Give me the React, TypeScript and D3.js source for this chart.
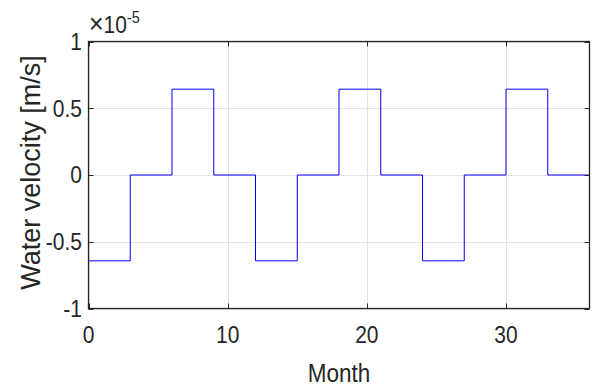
// @ts-nocheck
import React from "react";
import * as d3 from "d3";

// step boundaries (month) and the velocity held from each boundary to the next
const stepMonths = [0, 3, 6, 9, 12, 15, 18, 21, 24, 27, 30, 33, 36];
const stepVelocity = [
  -6.43e-6, 0, 6.43e-6, 0, -6.43e-6, 0, 6.43e-6, 0, -6.43e-6, 0, 6.43e-6, 0, 0,
];
const xTicks = [0, 10, 20, 30];
const yTicks = [-1e-5, -0.5e-5, 0, 0.5e-5, 1e-5];
const yTickLabels = ["-1", "-0.5", "0", "0.5", "1"];

const width = 592;
const height = 387;
const margin = { top: 41.5, right: 2.5, bottom: 78.5, left: 88.5 };
const font = "'Liberation Sans', Arial, Helvetica, sans-serif";
const axisColor = "#262626";
const gridColor = "#e3e3e3";
const tickLen = 5;

export default function App() {
  const x = d3.scaleLinear().domain([0, 36]).range([margin.left, width - margin.right]);
  const y = d3.scaleLinear().domain([-1e-5, 1e-5]).range([height - margin.bottom, margin.top]);

  const pts = stepMonths.map((m, i) => [m, stepVelocity[i]]);
  const line = d3
    .line()
    .x((d) => x(d[0]))
    .y((d) => y(d[1]))
    .curve(d3.curveStepAfter);

  const x0 = x.range()[0];
  const x1 = x.range()[1];
  const yTop = y.range()[1];
  const yBot = y.range()[0];

  return (
    <svg
      width={width}
      height={height}
      style={{ position: "absolute", left: 0, top: 0, background: "#fff" }}
      fontFamily={font}
    >
      {/* grid */}
      <g stroke={gridColor} strokeWidth={1}>
        {xTicks.map((t) => (
          <line key={"gx" + t} x1={Math.round(x(t)) + 0.5} x2={Math.round(x(t)) + 0.5} y1={yTop} y2={yBot} />
        ))}
        {yTicks.map((t) => (
          <line key={"gy" + t} x1={x0} x2={x1} y1={Math.round(y(t)) + 0.5} y2={Math.round(y(t)) + 0.5} />
        ))}
      </g>

      {/* data */}
      <path d={line(pts)} fill="none" stroke="#0000ff" strokeWidth={1} />

      {/* box */}
      <rect x={x0} y={yTop} width={x1 - x0} height={yBot - yTop} fill="none" stroke={axisColor} strokeWidth={1.3} />

      {/* ticks */}
      <g stroke={axisColor} strokeWidth={1}>
        {xTicks.map((t) => {
          const px = Math.round(x(t)) + 0.5;
          return (
            <g key={"tx" + t}>
              <line x1={px} x2={px} y1={yBot} y2={yBot - tickLen} />
              <line x1={px} x2={px} y1={yTop} y2={yTop + tickLen} />
            </g>
          );
        })}
        {yTicks.map((t) => {
          const py = Math.round(y(t)) + 0.5;
          return (
            <g key={"ty" + t}>
              <line x1={x0} x2={x0 + tickLen} y1={py} y2={py} />
              <line x1={x1} x2={x1 - tickLen} y1={py} y2={py} />
            </g>
          );
        })}
      </g>

      {/* tick labels */}
      <g fill={axisColor} fontSize={21}>
        {xTicks.map((t) => (
          <text key={"lx" + t} transform={`translate(${x(t)},343) scale(1,1.12)`} textAnchor="middle">
            {t}
          </text>
        ))}
        {yTicks.map((t, i) => (
          <text
            key={"ly" + t}
            transform={`translate(82,${y(t)}) scale(1,1.12)`}
            y={7.5}
            textAnchor="end"
          >
            {yTickLabels[i]}
          </text>
        ))}
      </g>

      {/* exponent */}
      <text transform="translate(89,33) scale(1,1.12)" fill={axisColor} fontSize={21}>
        <tspan fontSize={25}>×</tspan>
        <tspan fontSize={21}>10</tspan>
        <tspan dy={-9} fontSize={14.5}>-5</tspan>
      </text>

      {/* axis labels */}
      <text
        transform={`translate(${(x0 + x1) / 2},382) scale(1,1.18)`}
        textAnchor="middle"
        fontSize={22.5}
        fill={axisColor}
      >
        Month
      </text>
      <text
        transform={`translate(40,172.5) rotate(-90)`}
        textAnchor="middle"
        fontSize={27}
        fill={axisColor}
      >
        Water velocity [m/s]
      </text>
    </svg>
  );
}
